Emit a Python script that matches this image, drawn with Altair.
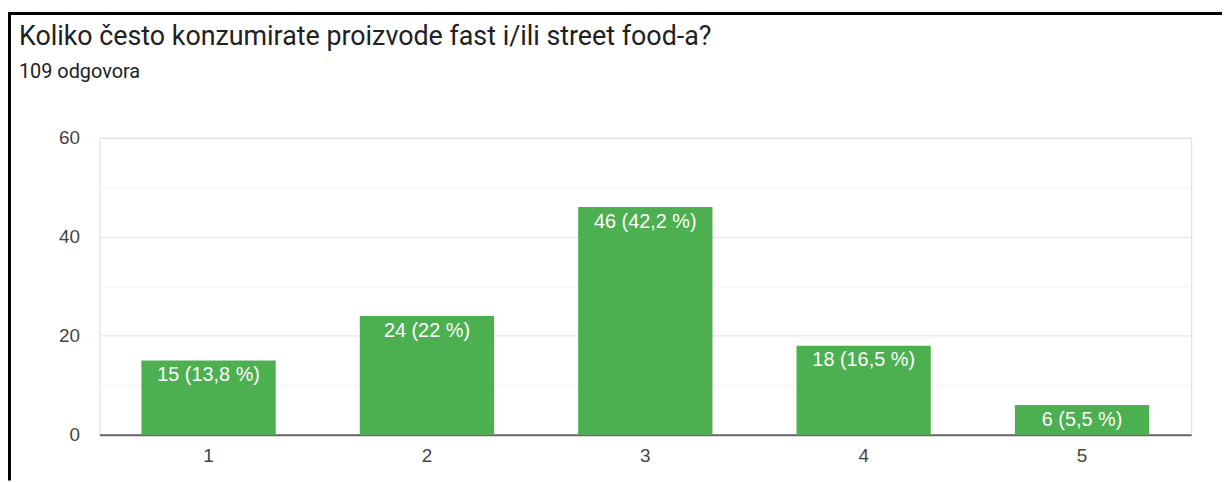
import altair as alt
import pandas as pd

categories = ["1", "2", "3", "4", "5"]
counts = [15, 24, 46, 18, 6]
percents = ["13,8", "22", "42,2", "16,5", "5,5"]
y_ticks = [0, 10, 20, 30, 40, 50, 60]

title_text = "Koliko često konzumirate proizvode fast i/ili street food-a?"
subtitle_text = "109 odgovora"

df = pd.DataFrame({
    "cat": categories,
    "count": counts,
    "label": [f"{c} ({p} %)" for c, p in zip(counts, percents)],
})

FONT = "Roboto"
AFONT = "Liberation Sans"
W, H = 1099, 299

x_enc = alt.X(
    "cat:N",
    sort=categories,
    scale=alt.Scale(paddingInner=0.385, paddingOuter=0.1925),
    axis=alt.Axis(
        title=None, labelAngle=0, ticks=False, tickSize=0, labelPadding=12,
        domainColor="#666666", domainWidth=2, labelFontSize=19,
        labelColor="#444444", labelFont=AFONT, grid=False,
    ),
)
y_enc = alt.Y(
    "count:Q",
    scale=alt.Scale(domain=[0, 60], nice=False),
    axis=alt.Axis(
        title=None, values=y_ticks, ticks=False, tickSize=0, domain=False,
        labelPadding=20, labelFontSize=19, labelColor="#444444", labelFont=AFONT,
        labelExpr="datum.value % 20 === 0 ? datum.label : ''",
        gridColor={"condition": {"test": "datum.value % 20 === 0", "value": "#e3e3e3"}, "value": "#f3f3f3"},
        gridWidth=1,
    ),
)

bars = alt.Chart(df).mark_bar(color="#4caf50").encode(x=x_enc, y=y_enc)
labels = alt.Chart(df).mark_text(
    color="white", baseline="top", dy=5, fontSize=20, font=AFONT, align="center"
).encode(x=alt.X("cat:N", sort=categories), y="count:Q", text="label:N")

frame_df = pd.DataFrame({"a": [0]})
top_border = alt.Chart(frame_df).mark_rule(color="black", strokeWidth=3).encode(
    x=alt.value(-92), x2=alt.value(W + 31), y=alt.value(-125)
)
left_border = alt.Chart(frame_df).mark_rule(color="black", strokeWidth=3).encode(
    x=alt.value(-90.5), y=alt.value(-126.5), y2=alt.value(H + 46)
)

chart = alt.layer(bars, labels, top_border, left_border).properties(
    width=W,
    height=H,
    padding={"left": 92, "top": 129, "right": 31, "bottom": 46},
    autosize=alt.AutoSizeParams(type="none"),
    title=alt.TitleParams(
        text=title_text,
        subtitle=subtitle_text,
        anchor="start",
        frame="group",
        dx=-81,
        dy=73,
        fontSize=27,
        font=FONT,
        fontWeight="normal",
        color="#202124",
        subtitleFontSize=20,
        subtitleFont=FONT,
        subtitleColor="#202124",
        subtitlePadding=11,
        offset=0,
    ),
).configure_view(stroke="#eeeeee").configure(background="white")

chart.save("out.html", embed_options={"renderer": "svg", "actions": False})
